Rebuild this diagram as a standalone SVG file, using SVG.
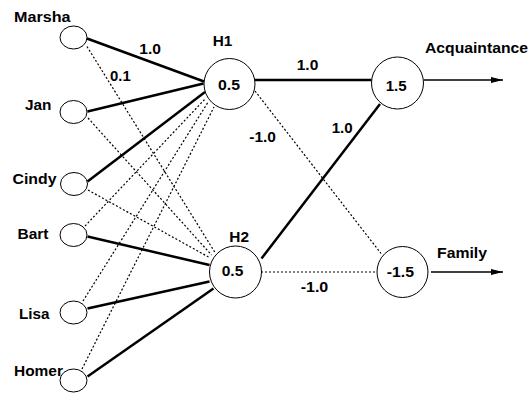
<svg xmlns="http://www.w3.org/2000/svg" width="532" height="394" viewBox="0 0 532 394">
  <style>
    text { font-family: "Liberation Sans", Arial, sans-serif; font-weight: bold; font-size: 15px; fill: #000; }
    .unit { fill: #fff; stroke: #000; stroke-width: 1; }
    .strong { stroke: #000; stroke-width: 2.5; fill: none; }
    .weak { stroke: #000; stroke-width: 1.2; stroke-dasharray: 2 2; fill: none; }
    .out { stroke: #000; stroke-width: 1.3; fill: none; }
  </style>
  <defs>
    <marker id="arrow" viewBox="0 0 12 6" refX="12" refY="3" markerWidth="12" markerHeight="6" markerUnits="userSpaceOnUse" orient="auto">
      <path d="M0,0 L12,3 L0,6 Z" fill="#000"/>
    </marker>
  </defs>
  <rect width="532" height="394" fill="#fff"/>

  <!-- connections -->
  <g id="connectors">
    <!-- input to H1 -->
    <line class="strong" x1="87" y1="38.5" x2="204" y2="81.5"/>
    <line class="strong" x1="87.5" y1="111.5" x2="203.5" y2="83.5"/>
    <line class="strong" x1="87.5" y1="181.5" x2="205" y2="92"/>
    <line class="weak" x1="85" y1="226" x2="205.5" y2="98.5"/>
    <line class="weak" x1="83" y1="301" x2="208.5" y2="101.5"/>
    <line class="weak" x1="82" y1="369" x2="214" y2="107"/>
    <!-- input to H2 -->
    <line class="weak" x1="87" y1="46.5" x2="215" y2="252.5"/>
    <line class="weak" x1="88" y1="118" x2="211.5" y2="255"/>
    <line class="weak" x1="88" y1="190" x2="208.5" y2="257"/>
    <line class="strong" x1="87.5" y1="236.5" x2="209.5" y2="265"/>
    <line class="strong" x1="87.5" y1="308.5" x2="209.5" y2="281.5"/>
    <line class="strong" x1="87.5" y1="376.5" x2="213.5" y2="288.5"/>
    <!-- hidden to output -->
    <line class="strong" x1="255" y1="80" x2="371.5" y2="80"/>
    <line class="strong" x1="261.5" y1="258.5" x2="380" y2="104"/>
    <line class="weak" x1="255" y1="91" x2="381" y2="253.5"/>
    <line class="weak" x1="261" y1="272" x2="376.5" y2="272"/>
    <!-- outputs -->
    <line class="out" x1="424" y1="80" x2="503" y2="80" marker-end="url(#arrow)"/>
    <line class="out" x1="431" y1="272" x2="503" y2="272" marker-end="url(#arrow)"/>
  </g>

  <!-- input units -->
  <g id="marsha">
    <ellipse class="unit" cx="73.5" cy="37.5" rx="13.5" ry="11.5"/>
    <text x="14" y="22" textLength="56.5" lengthAdjust="spacingAndGlyphs">Marsha</text>
  </g>
  <g id="jan">
    <ellipse class="unit" cx="73.5" cy="112" rx="13.5" ry="11.5"/>
    <text x="25" y="109.5" textLength="26.5" lengthAdjust="spacingAndGlyphs">Jan</text>
  </g>
  <g id="cindy">
    <ellipse class="unit" cx="74" cy="184" rx="13.5" ry="11.5"/>
    <text x="12.5" y="184" textLength="44" lengthAdjust="spacingAndGlyphs">Cindy</text>
  </g>
  <g id="bart">
    <ellipse class="unit" cx="73.5" cy="235" rx="13.5" ry="11.5"/>
    <text x="17.5" y="238.5" textLength="31" lengthAdjust="spacingAndGlyphs">Bart</text>
  </g>
  <g id="lisa">
    <ellipse class="unit" cx="73.5" cy="312.5" rx="13.5" ry="11.5"/>
    <text x="19" y="319" textLength="30.5" lengthAdjust="spacingAndGlyphs">Lisa</text>
  </g>
  <g id="homer">
    <ellipse class="unit" cx="73.5" cy="380.5" rx="13.5" ry="11.5"/>
    <text x="14" y="376" textLength="49" lengthAdjust="spacingAndGlyphs">Homer</text>
  </g>

  <!-- hidden units -->
  <g id="h1">
    <circle class="unit" cx="229.5" cy="84" r="25.5"/>
    <text x="212.7" y="45.7" textLength="19.6" lengthAdjust="spacingAndGlyphs">H1</text>
    <text x="218" y="90" textLength="22" lengthAdjust="spacingAndGlyphs">0.5</text>
  </g>
  <g id="h2">
    <circle class="unit" cx="235.5" cy="272" r="26"/>
    <text x="229.3" y="241.7" textLength="19.7" lengthAdjust="spacingAndGlyphs">H2</text>
    <text x="221.7" y="276" textLength="21.6" lengthAdjust="spacingAndGlyphs">0.5</text>
  </g>

  <!-- output units -->
  <g id="acquaintance">
    <circle class="unit" cx="397.5" cy="83" r="26"/>
    <text x="385.7" y="90.7" textLength="21" lengthAdjust="spacingAndGlyphs">1.5</text>
    <text x="425" y="52.7" textLength="103" lengthAdjust="spacingAndGlyphs">Acquaintance</text>
  </g>
  <g id="family">
    <circle class="unit" cx="402.5" cy="272" r="25.5"/>
    <text x="386.7" y="277.3" textLength="27.3" lengthAdjust="spacingAndGlyphs">-1.5</text>
    <text x="437" y="258.3" textLength="50" lengthAdjust="spacingAndGlyphs">Family</text>
  </g>

  <!-- weight labels -->
  <g id="weights">
    <text x="139.3" y="54.3" textLength="21.7" lengthAdjust="spacingAndGlyphs">1.0</text>
    <text x="110" y="81" textLength="20.7" lengthAdjust="spacingAndGlyphs">0.1</text>
    <text x="296.7" y="70" textLength="21.6" lengthAdjust="spacingAndGlyphs">1.0</text>
    <text x="331.7" y="133.3" textLength="21" lengthAdjust="spacingAndGlyphs">1.0</text>
    <text x="249.3" y="141.7" textLength="26.7" lengthAdjust="spacingAndGlyphs">-1.0</text>
    <text x="300.7" y="291.7" textLength="27.6" lengthAdjust="spacingAndGlyphs">-1.0</text>
  </g>
</svg>
